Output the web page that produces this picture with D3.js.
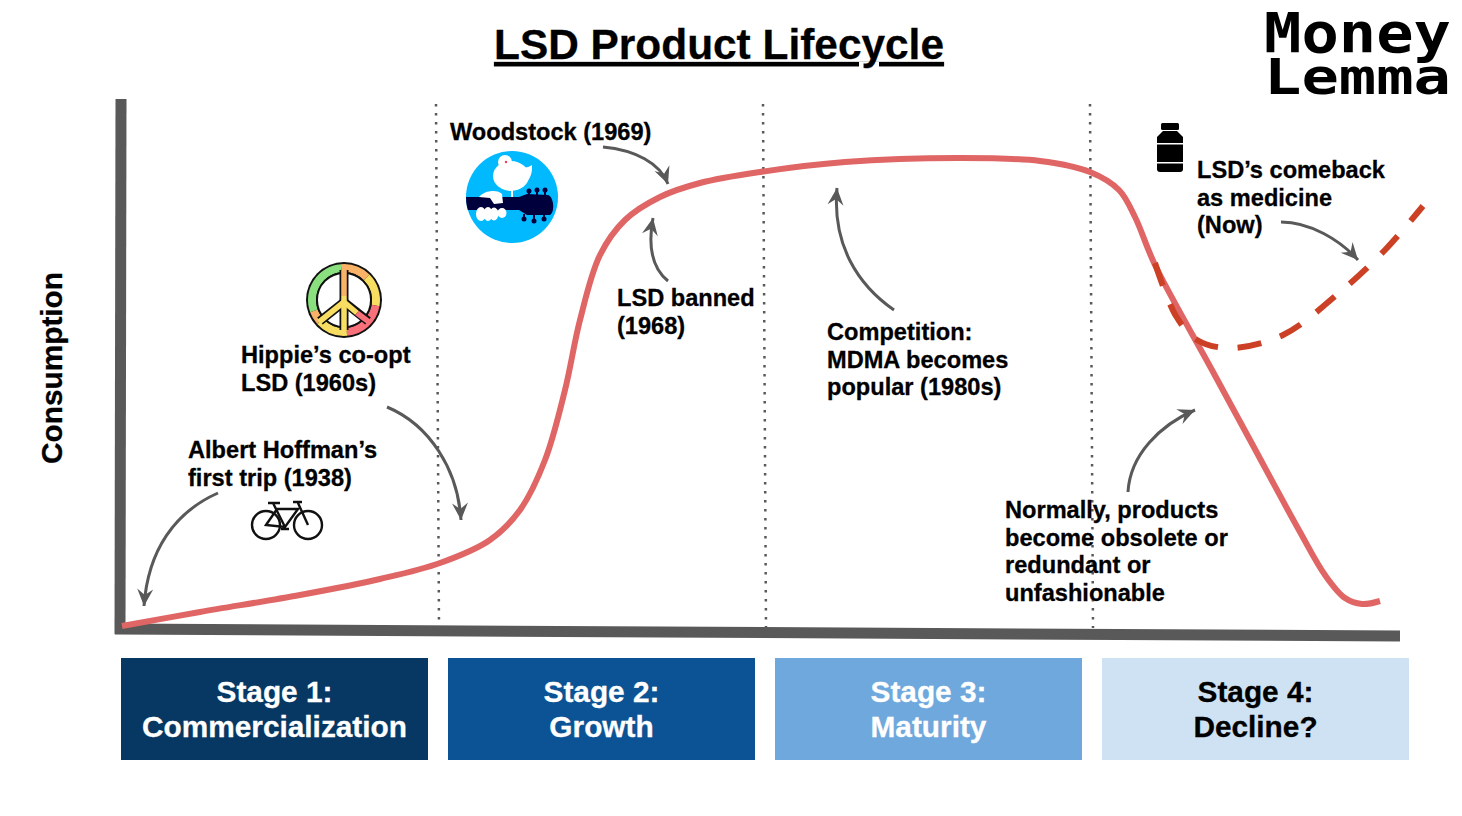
<!DOCTYPE html>
<html>
<head>
<meta charset="utf-8">
<script src="https://cdn.jsdelivr.net/npm/d3@7"></script>
<style>
  html, body { margin: 0; background: #fff; }
  text { font-family: "Liberation Sans", Arial, sans-serif; font-weight: bold; color: #000; fill: currentColor; stroke: currentColor; stroke-width: 0.3px; }
</style>
</head>
<body>
<div id="chart"></div>
<script>
// Datos
const curveX = [1, 79, 179, 259, 319, 369, 399, 424, 444, 459, 479, 504, 539, 579, 639, 724, 839, 919, 969, 998, 1014, 1034, 1091, 1129, 1179, 1204, 1224, 1241, 1259];
const curveY = [2, 16, 33, 49, 65, 88, 118, 168, 238, 308, 373, 408, 431, 445, 456, 466, 470, 467, 456, 438, 411, 363, 258, 188, 96, 53, 30, 24, 27];
const comebackX = [1034, 1055, 1076, 1109, 1162, 1219, 1264, 1302];
const comebackY = [365, 312, 288, 280, 293, 336, 378, 422];
const stageBreaks = [316, 643, 970];
const stageNames = [["Stage 1:", "Commercialization"], ["Stage 2:", "Growth"], ["Stage 3:", "Maturity"], ["Stage 4:", "Decline?"]];
const stageColors = ["#073763", "#0b5394", "#6fa8dc", "#cfe2f3"];
const stageText = ["#fff", "#fff", "#fff", "#000"];

const svgWidth = 1462;
const svgHeight = 816;

const svg = d3.select("#chart")
    .append("svg")
    .attr("width", svgWidth)
    .attr("height", svgHeight)
    .style("display", "block");

// Escalas
const x = d3.scaleLinear().domain([0, 1279]).range([121, 1400]);
const y = d3.scaleLinear().domain([0, 528]).range([628, 100]);
const line = d3.line().x(d => x(d[0])).y(d => y(d[1])).curve(d3.curveCatmullRom.alpha(0.5));

const grey = "#595959";

svg.append("defs").append("marker")
    .attr("id", "head")
    .attr("markerUnits", "userSpaceOnUse")
    .attr("viewBox", "-18 -10 20 20")
    .attr("markerWidth", 20).attr("markerHeight", 20)
    .attr("refX", 0).attr("refY", 0)
    .attr("orient", "auto")
    .append("path")
    .attr("d", "M0,0 L-17,-8 L-11,0 L-17,8 Z")
    .attr("fill", grey);

// Titulo
svg.append("text")
    .attr("x", 719).attr("y", 59)
    .attr("text-anchor", "middle")
    .attr("font-size", 42.4)
    .attr("text-decoration", "underline")
    .text("LSD Product Lifecycle");

// Logo
const logoFont = "'DejaVu Sans Mono', monospace";
svg.append("text").style("font-family", logoFont).style("stroke-width", 0)
    .attr("x", 1264).attr("y", 52).attr("font-size", 55)
    .attr("textLength", 187).attr("lengthAdjust", "spacingAndGlyphs")
    .text("Money");
svg.append("text").style("font-family", logoFont).style("stroke-width", 0)
    .attr("x", 1264).attr("y", 94).attr("font-size", 50)
    .attr("textLength", 187).attr("lengthAdjust", "spacingAndGlyphs")
    .text("Lemma");

// Divisiones punteadas
svg.selectAll(".divider")
    .data(stageBreaks)
    .enter().append("line")
    .attr("class", "divider")
    .attr("x1", d => x(d) - 1).attr("y1", 104)
    .attr("x2", d => x(d) + 2).attr("y2", 628)
    .attr("stroke", grey)
    .attr("stroke-width", 2.5)
    .attr("stroke-dasharray", "2.5 6.5");

// Ejes
svg.append("line").attr("x1", 121).attr("y1", 99).attr("x2", 120).attr("y2", 634)
    .attr("stroke", grey).attr("stroke-width", 11);
svg.append("line").attr("x1", 115).attr("y1", 629).attr("x2", 1400).attr("y2", 636)
    .attr("stroke", grey).attr("stroke-width", 11);

svg.append("text")
    .attr("transform", "translate(62,368) rotate(-90)")
    .attr("text-anchor", "middle")
    .attr("font-size", 29.8)
    .text("Consumption");

// Curvas
svg.append("path")
    .attr("d", line(d3.zip(curveX, curveY)))
    .attr("fill", "none")
    .attr("stroke", "#e06666")
    .attr("stroke-width", 6);

svg.append("path")
    .attr("d", line(d3.zip(comebackX, comebackY)))
    .attr("fill", "none")
    .attr("stroke", "#cc4125")
    .attr("stroke-width", 6)
    .attr("stroke-dasharray", "24 19.8");

// Anotaciones
const notes = [
    { lines: ["Albert Hoffman’s", "first trip (1938)"], x: 188, y: 458 },
    { lines: ["Hippie’s co-opt", "LSD (1960s)"], x: 241, y: 363 },
    { lines: ["Woodstock (1969)"], x: 450, y: 140 },
    { lines: ["LSD banned", "(1968)"], x: 617, y: 306 },
    { lines: ["Competition:", "MDMA becomes", "popular (1980s)"], x: 827, y: 340 },
    { lines: ["Normally, products", "become obsolete or", "redundant or", "unfashionable"], x: 1005, y: 518 },
    { lines: ["LSD’s comeback", "as medicine", "(Now)"], x: 1197, y: 178 }
];

notes.forEach(n => {
    n.lines.forEach((t, i) => {
        svg.append("text")
            .attr("x", n.x)
            .attr("y", n.y + i * 27.5)
            .attr("font-size", 23.6)
            .text(t);
    });
});

const arrows = [
    "M218,493 C175,512 148,550 144,606",
    "M387,407 C430,425 458,470 461,520",
    "M603,147 C635,150 660,163 668,184",
    "M668,281 C652,268 648,245 653,218",
    "M894,310 C858,285 832,245 837,188",
    "M1128,492 C1130,455 1160,425 1195,410",
    "M1281,222 C1310,222 1340,240 1358,260"
];

svg.selectAll(".arrow")
    .data(arrows)
    .enter().append("path")
    .attr("class", "arrow")
    .attr("d", d => d)
    .attr("fill", "none")
    .attr("stroke", grey)
    .attr("stroke-width", 3)
    .attr("marker-end", "url(#head)");

// Etapas
const stages = svg.selectAll(".stage")
    .data(stageNames)
    .enter().append("g")
    .attr("class", "stage")
    .attr("transform", (d, i) => `translate(${121 + i * 327}, 658)`);

stages.append("rect")
    .attr("width", 307)
    .attr("height", 102)
    .attr("fill", (d, i) => stageColors[i]);

stages.each(function(d, i) {
    d.forEach((t, j) => {
        d3.select(this).append("text")
            .attr("x", 153.5)
            .attr("y", 44 + j * 35)
            .attr("text-anchor", "middle")
            .attr("font-size", 29.8)
            .style("color", stageText[i])
            .text(t);
    });
});

// Icono paz
const peace = svg.append("g").attr("transform", "translate(344,300)");
const rad = Math.PI / 180;
const ringParts = [
    [-110, -5, "#8ae07f"], [-5, 45, "#f9b368"], [45, 100, "#f7dd62"],
    [100, 175, "#f8707a"], [175, 228, "#f7dd62"], [228, 250, "#f9b368"]
];
const ringArc = d3.arc().innerRadius(28).outerRadius(36);
peace.append("circle").attr("r", 38).attr("fill", "#111");
peace.selectAll(".ring")
    .data(ringParts)
    .enter().append("path")
    .attr("d", d => ringArc({ startAngle: d[0] * rad, endAngle: d[1] * rad }))
    .attr("fill", d => d[2]);
peace.append("circle").attr("r", 27).attr("fill", "#fff").attr("stroke", "#111").attr("stroke-width", 2);
const spokes = [
    [0, -30, 0, 30, "#111", 9], [0, 2, -24, 21, "#111", 9], [0, 2, 24, 21, "#111", 9],
    [0, -30, 0, -4, "#f9b368", 5.5], [0, -4, 0, 31, "#f7dd62", 5.5],
    [0, 2, -25, 22, "#f7dd62", 5.5], [0, 2, 13, 13, "#f7dd62", 5.5], [13, 13, 25, 22, "#f8707a", 5.5]
];
peace.selectAll(".spoke")
    .data(spokes)
    .enter().append("line")
    .attr("x1", d => d[0]).attr("y1", d => d[1])
    .attr("x2", d => d[2]).attr("y2", d => d[3])
    .attr("stroke", d => d[4]).attr("stroke-width", d => d[5]);

// Icono bicicleta
const bike = svg.append("g").attr("fill", "none").attr("stroke", "#111").attr("stroke-width", 2.4);
bike.append("circle").attr("cx", 266).attr("cy", 525).attr("r", 14);
bike.append("circle").attr("cx", 308).attr("cy", 525).attr("r", 14);
bike.append("path").attr("d", "M266,525 L277,509 L298,509 L285,527 Z M273,503 L285,527 M298,503 L308,525 M268,503 L280,503 M293,502 L302,502 M281,529 L289,529");

// Icono Woodstock
svg.append("defs").append("clipPath").attr("id", "wood-clip")
    .append("circle").attr("cx", 512).attr("cy", 197).attr("r", 46);
svg.append("circle").attr("cx", 512).attr("cy", 197).attr("r", 46).attr("fill", "#00b9ff");
const wood = svg.append("g").attr("clip-path", "url(#wood-clip)");
wood.append("circle").attr("cx", 505).attr("cy", 162).attr("r", 7).attr("fill", "#fff");
wood.append("ellipse").attr("cx", 511).attr("cy", 176).attr("rx", 18).attr("ry", 15).attr("fill", "#fff");
wood.append("path").attr("d", "M518,165 C525,170 530,166 532,165 C533,178 526,186 514,188 Z").attr("fill", "#fff");
wood.append("rect").attr("x", 511).attr("y", 188).attr("width", 2).attr("height", 12).attr("fill", "#fff");
wood.append("rect").attr("x", 460).attr("y", 197).attr("width", 65).attr("height", 13).attr("fill", "#00003c");
wood.append("path").attr("d", "M519,197 L527,194 L548,195 C554,197 555,212 550,215 L527,215 L519,210 Z").attr("fill", "#00003c");
[[529, 191], [537, 190], [545, 190], [524, 219], [534, 221], [544, 219]].forEach(p => {
    wood.append("circle").attr("cx", p[0]).attr("cy", p[1]).attr("r", 2.5).attr("fill", "#00003c");
    wood.append("rect").attr("x", p[0] - 1).attr("y", Math.min(p[1], 214)).attr("width", 2).attr("height", 6).attr("fill", "#00003c");
});
wood.append("path").attr("d", "M479,197 C484,190 498,189 502,194 L503,203 L494,204 L490,198 Z").attr("fill", "#fff");
[[481, 214, 5, 7], [488, 214, 4.5, 7], [494, 214, 4.5, 6.5], [502, 213, 4.5, 5]].forEach(p => {
    wood.append("ellipse").attr("cx", p[0]).attr("cy", p[1]).attr("rx", p[2]).attr("ry", p[3]).attr("fill", "#fff");
});
wood.append("circle").attr("cx", 506).attr("cy", 162).attr("r", 1.2).attr("fill", "#f03a5f");

// Icono frasco
const bottle = svg.append("g").attr("fill", "#000");
bottle.append("rect").attr("x", 1161).attr("y", 123).attr("width", 18).attr("height", 7).attr("rx", 1.5);
bottle.append("path").attr("d", "M1163,131 L1177,131 L1183,137 L1183,169 Q1183,172 1180,172 L1160,172 Q1157,172 1157,169 L1157,137 Z");
bottle.append("rect").attr("x", 1157).attr("y", 143).attr("width", 26).attr("height", 1.5).attr("fill", "#fff");
bottle.append("rect").attr("x", 1157).attr("y", 162).attr("width", 26).attr("height", 1.5).attr("fill", "#fff");
</script>
</body>
</html>
